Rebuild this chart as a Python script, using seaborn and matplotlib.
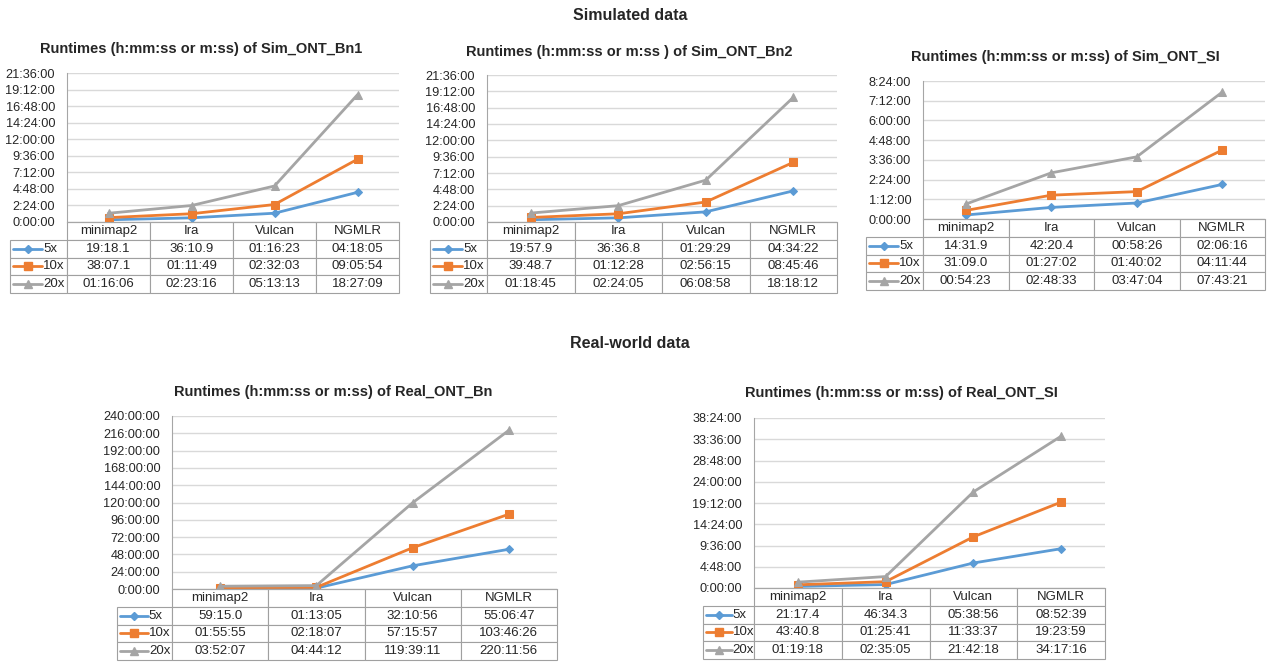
import pandas as pd
import matplotlib
matplotlib.use("Agg")
import matplotlib.pyplot as plt
import seaborn as sns

# --- data (as printed in the data tables, h:mm:ss or m:ss) ---
tools = ["minimap2", "Ira", "Vulcan", "NGMLR"]
coverages = ["5x", "10x", "20x"]

sim_bn1 = [["19:18.1", "36:10.9", "01:16:23", "04:18:05"],
           ["38:07.1", "01:11:49", "02:32:03", "09:05:54"],
           ["01:16:06", "02:23:16", "05:13:13", "18:27:09"]]
sim_bn2 = [["19:57.9", "36:36.8", "01:29:29", "04:34:22"],
           ["39:48.7", "01:12:28", "02:56:15", "08:45:46"],
           ["01:18:45", "02:24:05", "06:08:58", "18:18:12"]]
sim_sl = [["14:31.9", "42:20.4", "00:58:26", "02:06:16"],
          ["31:09.0", "01:27:02", "01:40:02", "04:11:44"],
          ["00:54:23", "02:48:33", "03:47:04", "07:43:21"]]
real_bn = [["59:15.0", "01:13:05", "32:10:56", "55:06:47"],
           ["01:55:55", "02:18:07", "57:15:57", "103:46:26"],
           ["03:52:07", "04:44:12", "119:39:11", "220:11:56"]]
real_sl = [["21:17.4", "46:34.3", "05:38:56", "08:52:39"],
           ["43:40.8", "01:25:41", "11:33:37", "19:23:59"],
           ["01:19:18", "02:35:05", "21:42:18", "34:17:16"]]

palette = {"5x": "#5b9bd5", "10x": "#ed7d31", "20x": "#a5a5a5"}
markers = {"5x": "D", "10x": "s", "20x": "^"}
msizes = {"5x": 4.2, "10x": 5.5, "20x": 6}

W, H = 1276, 662
sns.set_style("white")
plt.rcParams["font.family"] = ["Liberation Sans", "DejaVu Sans"]


def to_hours(s):
    p = [float(v) for v in s.split(":")]
    if len(p) == 2:
        return (p[0] * 60 + p[1]) / 3600
    return p[0] + p[1] / 60 + p[2] / 3600


def hms(h, pos=None):
    t = int(round(h * 3600))
    return f"{t // 3600}:{(t % 3600) // 60:02d}:{t % 60:02d}"


def panel(fig, box, tbl_left, tbl_bottom, title, title_xy, rows, step, nsteps):
    left, right, top, bottom = box
    aw, ah = right - left, bottom - top
    ax = fig.add_axes([left / W, 1 - bottom / H, aw / W, ah / H])

    df = pd.DataFrame([
        {"pos": j, "hours": to_hours(v), "cov": c}
        for c, r in zip(coverages, rows) for j, v in enumerate(r)
    ])
    sns.lineplot(data=df, x="pos", y="hours", hue="cov", style="cov",
                 hue_order=coverages, style_order=coverages,
                 palette=palette, markers=markers, dashes=False,
                 linewidth=2, legend=False, ax=ax)
    for line, c in zip(ax.lines, coverages):
        line.set_markeredgecolor(palette[c])
        line.set_markersize(msizes[c])

    ax.set_xlim(-0.5, len(tools) - 0.5)
    ax.set_ylim(0, step * nsteps)
    ax.set_yticks([step * i for i in range(nsteps + 1)])
    ax.yaxis.set_major_formatter(plt.FuncFormatter(hms))
    ax.set_xticks([])
    ax.set_xlabel("")
    ax.set_ylabel("")
    ax.tick_params(axis="y", length=0, pad=8.5, labelsize=9.2)
    ax.grid(axis="y", color="#d9d9d9", lw=1)
    ax.set_axisbelow(True)
    for s in ["top", "right"]:
        ax.spines[s].set_visible(False)
    ax.spines["left"].set_color("#a6a6a6")
    ax.spines["bottom"].set_color("#a6a6a6")

    # data table under the plot
    lw = left - tbl_left
    th = tbl_bottom - bottom
    bbox = [-lw / aw, -th / ah, (right - tbl_left) / aw, th / ah]
    cell_text = [[""] + list(r) for r in rows]
    col_w = [lw] + [aw / len(tools)] * len(tools)
    tb = ax.table(cellText=cell_text, colLabels=[""] + tools,
                  colWidths=[w / sum(col_w) for w in col_w],
                  cellLoc="center", bbox=bbox)
    tb.auto_set_font_size(False)
    tb.set_fontsize(9.5)
    for (r, c), cell in tb.get_celld().items():
        cell.set_edgecolor("#a0a0a0")
        cell.set_linewidth(0.8)
        if r == 0 and c == 0:
            cell.visible_edges = "open"

    # legend keys in the row-label cells
    rh = th / 4
    x0 = -lw / aw
    cw = lw / aw
    for i, c in enumerate(coverages):
        yc = -(rh * (i + 1.5)) / ah
        ax.plot([x0 + 0.05 * cw, x0 + 0.57 * cw], [yc, yc], color=palette[c],
                lw=2, transform=ax.transAxes, clip_on=False)
        ax.plot([x0 + 0.31 * cw], [yc], marker=markers[c], ms=msizes[c],
                color=palette[c], mec=palette[c], transform=ax.transAxes,
                clip_on=False)
        ax.text(x0 + 0.58 * cw, yc, c, fontsize=9.5, ha="left", va="center",
                transform=ax.transAxes)

    fig.text(title_xy[0] / W, 1 - title_xy[1] / H, title, ha="center",
             va="center", fontsize=10.5, fontweight="bold")
    return ax


fig = plt.figure(figsize=(W / 100, H / 100), dpi=100)

panel(fig, (67, 399, 73, 222), 10, 293,
      "Runtimes (h:mm:ss or m:ss) of Sim_ONT_Bn1", (201, 49), sim_bn1, 2.4, 9)
panel(fig, (487, 837, 75, 222), 430, 293,
      "Runtimes (h:mm:ss or m:ss ) of Sim_ONT_Bn2", (629, 52), sim_bn2, 2.4, 9)
panel(fig, (923, 1265, 81, 219), 866, 290,
      "Runtimes (h:mm:ss or m:ss) of Sim_ONT_SI", (1065, 57), sim_sl, 1.2, 7)
panel(fig, (172, 557, 416, 589), 117, 660,
      "Runtimes (h:mm:ss or m:ss) of Real_ONT_Bn", (333, 392), real_bn, 24, 10)
panel(fig, (754, 1105, 418, 588), 703, 659,
      "Runtimes (h:mm:ss or m:ss) of Real_ONT_SI", (901, 393), real_sl, 4.8, 8)

fig.text(630 / W, 1 - 15 / H, "Simulated data", ha="center", va="center",
         fontsize=11.5, fontweight="bold")
fig.text(630 / W, 1 - 343 / H, "Real-world data", ha="center", va="center",
         fontsize=11.5, fontweight="bold")

fig.savefig("out.png", dpi=100, facecolor="white")
